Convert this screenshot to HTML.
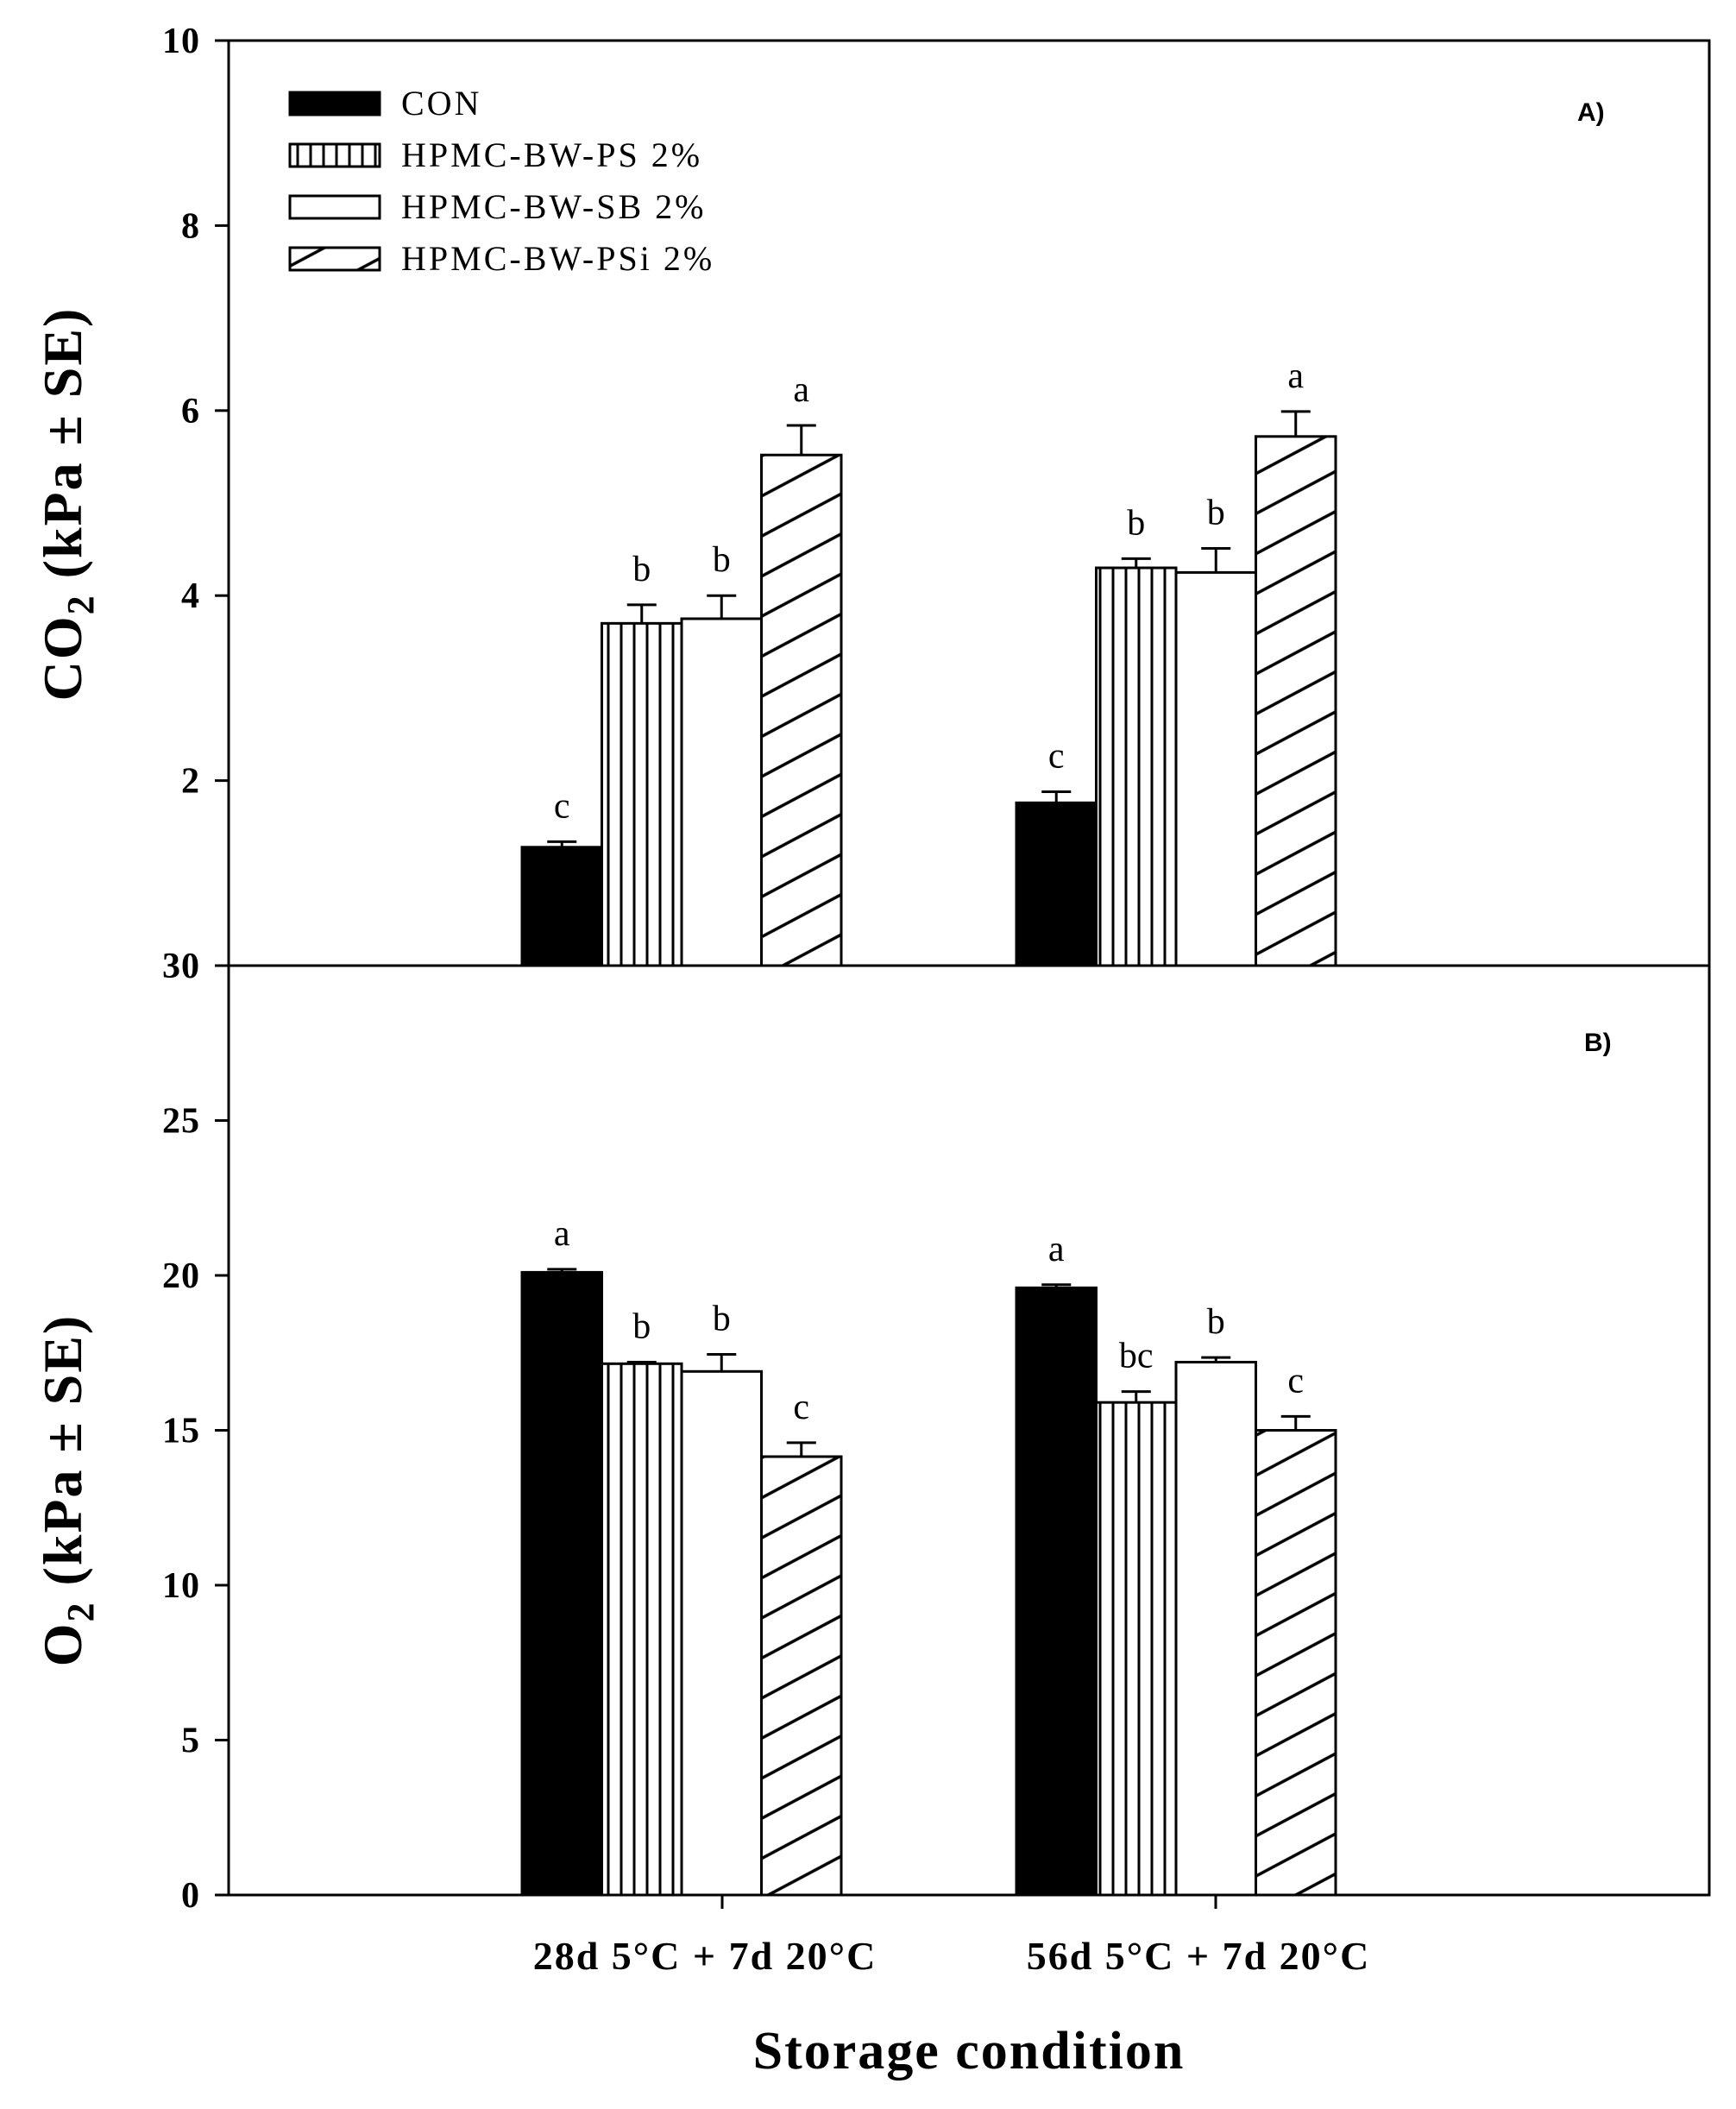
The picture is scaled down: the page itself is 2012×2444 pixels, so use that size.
<!DOCTYPE html>
<html><head><meta charset="utf-8"><style>
html,body{margin:0;padding:0;background:#fff;}
svg{display:block;}
text{font-family:"Liberation Serif",serif;fill:#000;}
</style></head><body>
<svg id="chart" width="2012" height="2444" viewBox="0 0 2012 2444" xmlns="http://www.w3.org/2000/svg">
<defs>
<pattern id="vstripe" patternUnits="userSpaceOnUse" width="15" height="20" x="608">
<rect width="15" height="20" fill="#fff"/><line x1="7" y1="0" x2="7" y2="20" stroke="#000" stroke-width="3"/>
</pattern>
<pattern id="hatch" patternUnits="userSpaceOnUse" width="20" height="41" patternTransform="rotate(-28)">
<rect width="20" height="41" fill="#fff"/>
<line x1="0" y1="20" x2="20" y2="20" stroke="#000" stroke-width="3.5"/>
</pattern>
</defs>
<g id="plot"></g>
</svg>
<script>
const categories = ["28d 5°C + 7d 20°C", "56d 5°C + 7d 20°C"];
const seriesNames = ["CON", "HPMC-BW-PS 2%", "HPMC-BW-SB 2%", "HPMC-BW-PSi 2%"];
const co2Values = [[1.28, 3.70, 3.75, 5.52], [1.76, 4.30, 4.25, 5.72]];
const co2Errors = [[0.06, 0.20, 0.25, 0.32], [0.12, 0.10, 0.26, 0.27]];
const co2Letters = [["c", "b", "b", "a"], ["c", "b", "b", "a"]];
const o2Values = [[20.1, 17.15, 16.9, 14.15], [19.6, 15.9, 17.2, 15.0]];
const o2Errors = [[0.1, 0.05, 0.55, 0.45], [0.1, 0.35, 0.15, 0.45]];
const o2Letters = [["a", "b", "b", "c"], ["a", "bc", "b", "c"]];
const co2Ticks = [2, 4, 6, 8, 10];
const o2Ticks = [0, 5, 10, 15, 20, 25, 30];

const NS = "http://www.w3.org/2000/svg";
const g = document.getElementById("plot");
function el(tag, attrs, text) {
  const e = document.createElementNS(NS, tag);
  for (const k in attrs) e.setAttribute(k, attrs[k]);
  if (text !== undefined) e.textContent = text;
  g.appendChild(e);
  return e;
}
const L = 265, R = 1981;
const yCO2 = v => 1119 - (v / 10) * (1119 - 47);
const yO2 = v => 2196 - (v / 30) * (2196 - 1119);
const groupStart = [605, 1178];
const bw = 92.5;
const xBar = (gi, si) => groupStart[gi] + si * bw;
const fills = ["#000", "url(#vstripe)", "#fff", "url(#hatch)"];

let e;
e = el("rect", {x: L, y: 47, width: R - L, height: 2196 - 47, fill: "none", stroke: "#000", "stroke-width": 3});


e = el("line", {x1: L, y1: 1119, x2: R, y2: 1119, stroke: "#000", "stroke-width": 3});



function drawPanel(vals, errs, letters, yf, name) {
  for (let gi = 0; gi < vals.length; gi++) {
    for (let si = 0; si < vals[gi].length; si++) {
      const x = xBar(gi, si), y = yf(vals[gi][si]), y0 = yf(0);
      const b = el("rect", {x: x, y: y, width: bw, height: y0 - y, fill: fills[si], stroke: "#000", "stroke-width": 3});
      
      
      const cx = x + bw / 2, ye = yf(vals[gi][si] + errs[gi][si]);
      const eb = el("path", {d: `M${cx} ${y} V${ye} M${cx - 17} ${ye} H${cx + 17}`, stroke: "#000", "stroke-width": 3, fill: "none"});
      
      
      const t = el("text", {x: cx, y: ye - 28, "text-anchor": "middle", "font-size": 42}, letters[gi][si]);
      
      
    }
  }
}
drawPanel(co2Values, co2Errors, co2Letters, yCO2, "co2");
drawPanel(o2Values, o2Errors, o2Letters, yO2, "o2");

co2Ticks.forEach(v => {
  const y = yCO2(v);
  const tk = el("line", {x1: L - 16, y1: y, x2: L, y2: y, stroke: "#000", "stroke-width": 3});
  
  
  const t = el("text", {x: 232, y: y + 14, "text-anchor": "end", "font-size": 42, "font-weight": "bold", "letter-spacing": 1}, String(v));
  
  
});
o2Ticks.forEach(v => {
  const y = yO2(v);
  const tk = el("line", {x1: L - 16, y1: y, x2: L, y2: y, stroke: "#000", "stroke-width": 3});
  
  
  const t = el("text", {x: 232, y: y + 14, "text-anchor": "end", "font-size": 42, "font-weight": "bold", "letter-spacing": 1}, String(v));
  
  
});
categories.forEach((c, i) => {
  const x = L + (R - L) * (i + 1) / 3;
  const tk = el("line", {x1: x, y1: 2196, x2: x, y2: 2212, stroke: "#000", "stroke-width": 3});
  
  
  const t = el("text", {x: x - 20, y: 2282, "text-anchor": "middle", "font-size": 46, "font-weight": "bold", "letter-spacing": 2}, c);
  
  
});

e = el("text", {x: 1123, y: 2397, "text-anchor": "middle", "font-size": 62, "font-weight": "bold", "letter-spacing": 2}, "Storage condition");


e = el("text", {transform: "translate(94,584) rotate(-90)", "text-anchor": "middle", "font-size": 64, "font-weight": "bold", "letter-spacing": 2});
e.innerHTML = 'CO<tspan font-size="44" dy="14">2</tspan><tspan dy="-14"> (kPa ± SE)</tspan>';


e = el("text", {transform: "translate(94,1727) rotate(-90)", "text-anchor": "middle", "font-size": 64, "font-weight": "bold", "letter-spacing": 2});
e.innerHTML = 'O<tspan font-size="44" dy="14">2</tspan><tspan dy="-14"> (kPa ± SE)</tspan>';



e = el("text", {x: 1828, y: 140, "font-size": 30, "font-weight": "bold", style: "font-family:'Liberation Sans',sans-serif"}, "A)");


e = el("text", {x: 1836, y: 1218, "font-size": 30, "font-weight": "bold", style: "font-family:'Liberation Sans',sans-serif"}, "B)");



seriesNames.forEach((n, i) => {
  const cy = 120 + i * 60;
  const r = el("rect", {x: 336, y: cy - 13, width: 104, height: 26, fill: fills[i], stroke: "#000", "stroke-width": 3});
  
  
  const t = el("text", {x: 465, y: cy + 13, "font-size": 40, "letter-spacing": 3}, n);
  
  
});
</script>
</body></html>
